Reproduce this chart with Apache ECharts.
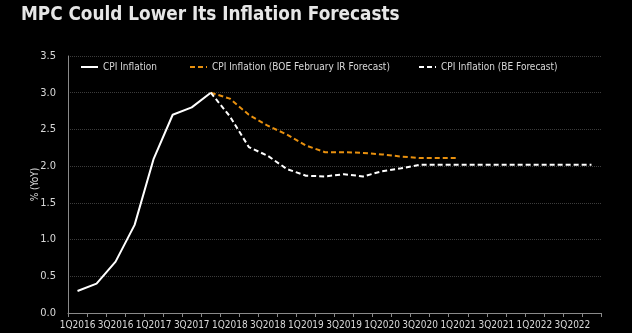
<!DOCTYPE html>
<html>
<head>
<meta charset="utf-8">
<script src="https://cdn.jsdelivr.net/npm/echarts@6/dist/echarts.min.js"></script>
<style>
html,body{margin:0;padding:0;background:#000;}
#chart{width:632px;height:333px;}
</style>
</head>
<body>
<div id="chart"></div>
<script>
const categories = ['1Q2016','2Q2016','3Q2016','4Q2016','1Q2017','2Q2017','3Q2017','4Q2017',
  '1Q2018','2Q2018','3Q2018','4Q2018','1Q2019','2Q2019','3Q2019','4Q2019',
  '1Q2020','2Q2020','3Q2020','4Q2020','1Q2021','2Q2021','3Q2021','4Q2021',
  '1Q2022','2Q2022','3Q2022','4Q2022'];
const cpiInflation = [0.3,0.4,0.7,1.2,2.1,2.7,2.8,3.0,null,null,null,null,null,null,null,null,
  null,null,null,null,null,null,null,null,null,null,null,null];
const boeForecast = [null,null,null,null,null,null,null,3.0,2.92,2.7,2.55,2.43,2.28,2.19,2.19,2.18,
  2.16,2.13,2.11,2.11,2.11,null,null,null,null,null,null,null];
const beForecast = [null,null,null,null,null,null,null,3.0,2.68,2.26,2.14,1.96,1.87,1.86,1.89,1.86,
  1.93,1.97,2.02,2.02,2.02,2.02,2.02,2.02,2.02,2.02,2.02,2.02];
const seriesNames = ['CPI Inflation','CPI Inflation (BOE February IR Forecast)','CPI Inflation (BE Forecast)'];
const yTicks = {min:0, max:3.5, interval:0.5};

const txt = '#d8d8d8';
const font = 'DejaVu Sans Condensed';
const chart = echarts.init(document.getElementById('chart'), null, {renderer:'canvas'});
function legend(name, left){
  return {show:true, data:[name], left:left, top:62, itemWidth:17, itemHeight:10,
    itemStyle:{opacity:0},
    textStyle:{color:txt, fontSize:10, fontFamily:font}, padding:0, itemGap:0};
}
chart.setOption({
  backgroundColor:'#000',
  animation:false,
  title:{text:'MPC Could Lower Its Inflation Forecasts', left:16, top:1,
    textStyle:{color:'#e6e6e6', fontSize:18.8, fontWeight:'bold', fontFamily:font}},
  legend:[legend(seriesNames[0],80), legend(seriesNames[1],189), legend(seriesNames[2],418)],
  grid:{left:68, right:31, top:56, bottom:20, containLabel:false},
  xAxis:{type:'category', data:categories, boundaryGap:true,
    axisLine:{lineStyle:{color:'#8a8a8a', width:1}},
    axisTick:{show:true, interval:0, length:4, lineStyle:{color:'#8a8a8a'}},
    axisLabel:{interval:1, color:txt, fontSize:10, fontFamily:font, margin:7, showMinLabel:true, hideOverlap:false},
    splitLine:{show:false}},
  yAxis:{type:'value', min:yTicks.min, max:yTicks.max, interval:yTicks.interval,
    name:'% (YoY)', nameLocation:'middle', nameGap:28, nameRotate:90, nameMoveOverlap:false,
    nameTextStyle:{color:txt, fontSize:10, fontFamily:font},
    axisLine:{show:true, lineStyle:{color:'#8a8a8a', width:1}},
    axisTick:{show:false},
    axisLabel:{color:txt, fontSize:11, fontFamily:font, margin:12, formatter:v=>v.toFixed(1)},
    splitLine:{show:true, lineStyle:{color:'#3c3c3c', type:'dotted', width:1}}},
  series:[
    {name:seriesNames[0], type:'line', data:cpiInflation, symbol:'none', connectNulls:false,
      lineStyle:{color:'#ffffff', width:2}, itemStyle:{color:'#ffffff'}},
    {name:seriesNames[1], type:'line', data:boeForecast, symbol:'none',
      lineStyle:{color:'#e8900e', width:2, type:[5,3]}, itemStyle:{color:'#e8900e'}},
    {name:seriesNames[2], type:'line', data:beForecast, symbol:'none',
      lineStyle:{color:'#ffffff', width:2, type:[5,3]}, itemStyle:{color:'#ffffff'}}
  ]
});
</script>
</body>
</html>
